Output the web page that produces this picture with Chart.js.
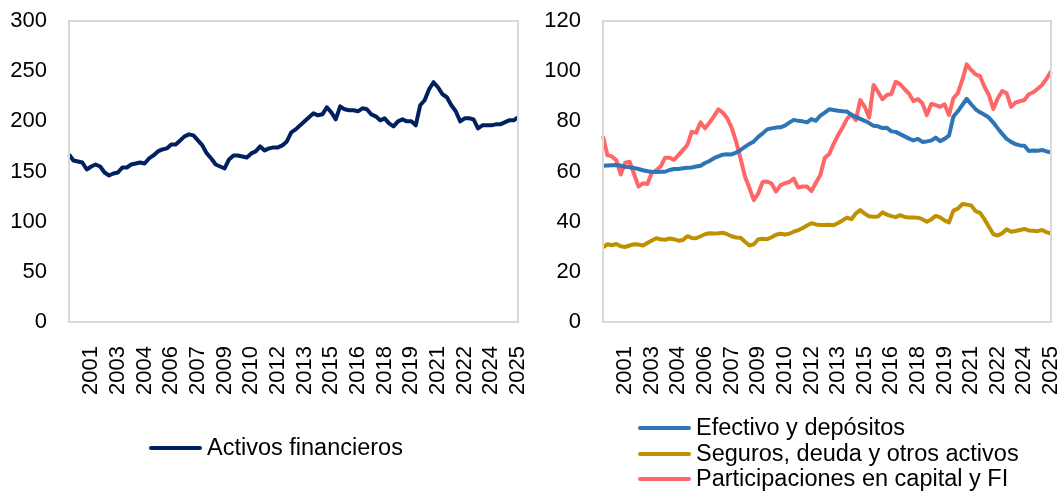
<!DOCTYPE html>
<html>
<head>
<meta charset="utf-8">
<script src="https://cdn.jsdelivr.net/npm/chart.js@4.4.1/dist/chart.umd.min.js"></script>
<style>
body { margin: 0; background: #fff; width: 1063px; height: 491px; position: relative; overflow: hidden; font-family: "Liberation Sans", Arial, sans-serif; }
canvas { position: absolute; top: 0; }
#left-chart { left: 0; }
#right-chart { left: 535px; }
.item { position: absolute; white-space: nowrap; height: 26px; line-height: 26px; font-size: 23.5px; color: #000; }
.swatch { display: inline-block; width: 53px; height: 4px; vertical-align: middle; margin-right: 5px; border-radius: 2px; position: relative; top: -1px; }
</style>
</head>
<body>
<canvas id="left-chart" width="530" height="491"></canvas>
<canvas id="right-chart" width="528" height="491"></canvas>
<div id="legends"></div>
<script>
"use strict";

// quarterly categories, 2000-T2 .. 2025-T3
const quarters = [];
for (let year = 2000; year <= 2025; year++) {
    for (let q = 1; q <= 4; q++) {
        if ((year === 2000 && q < 2) || (year === 2025 && q > 3))
            continue;
        quarters.push(`${year}-T${q}`);
    }
}

const totalAssets = [
    167, 161, 160, 159, 152, 155, 157, 155, 149, 146, 148, 149, 154, 154, 157, 158, 159,
    158, 163, 166, 170, 172, 173, 177, 177, 181, 185, 187, 186, 181, 176, 168, 163, 157,
    155, 153, 162, 166, 166, 165, 164, 168, 170, 175, 171, 173, 174, 174, 176, 180, 189,
    192, 196, 200, 204, 208, 206, 207, 214, 209, 202, 215, 212, 211, 211, 210, 213, 212,
    207, 205, 201, 203, 198, 195, 200, 202, 200, 200, 196, 216, 221, 232, 239, 234, 227,
    224, 216, 210, 200, 203, 203, 202, 193, 196, 196, 196, 197, 197, 199, 201, 201, 204
];

const cashDeposits = [
    62.3, 62.4, 62.5, 62.6, 62.3, 61.9, 61.7, 61.4, 61.0, 60.5, 60.1, 59.9, 59.8, 59.9,
    59.9, 60.6, 61.0, 61.0, 61.3, 61.5, 61.6, 62.0, 62.3, 63.4, 64.2, 65.3, 66.0, 66.7,
    66.9, 66.8, 67.5, 68.6, 69.8, 71.0, 72.0, 73.8, 75.2, 76.8, 77.2, 77.5, 77.6, 78.3,
    79.5, 80.6, 80.2, 80.0, 79.6, 80.9, 80.2, 82.3, 83.5, 84.8, 84.5, 84.2, 84.0, 83.9,
    82.6, 81.8, 81.0, 80.2, 79.3, 78.2, 78.0, 77.3, 77.4, 76.0, 75.8, 74.9, 74.0, 73.1,
    72.4, 73.0, 71.8, 72.0, 72.3, 73.5, 72.1, 73.0, 74.3, 81.9, 84.0, 86.5, 89.0, 86.8,
    84.8, 83.6, 82.6, 81.5, 79.5, 77.2, 75.0, 73.0, 71.8, 70.9, 70.4, 70.3, 68.2, 68.4,
    68.3, 68.6, 68.0, 67.7
];

const insuranceDebt = [
    29.8, 31.0, 30.6, 31.1, 30.2, 29.9, 30.5, 31.0, 30.9, 30.5, 31.5, 32.5, 33.4, 33.0,
    32.8, 33.3, 33.0, 32.4, 32.7, 34.2, 33.5, 33.4, 34.2, 35.0, 35.4, 35.3, 35.4, 35.6,
    35.0, 34.2, 33.7, 33.6, 32.0, 30.5, 31.0, 33.0, 33.2, 33.0, 33.8, 34.8, 35.2, 34.9,
    35.2, 36.0, 36.6, 37.5, 38.5, 39.4, 38.9, 38.7, 38.7, 38.8, 38.6, 39.5, 40.5, 41.6,
    41.0, 43.3, 44.6, 43.2, 42.2, 42.0, 42.1, 43.7, 42.8, 42.2, 41.8, 42.6, 41.9, 41.7,
    41.7, 41.6, 41.0, 40.0, 40.9, 42.3, 41.7, 40.5, 39.7, 44.4, 45.2, 47.0, 46.8, 46.5,
    44.2, 43.5, 41.0, 38.0, 35.0, 34.5, 35.4, 37.0, 36.0, 36.3, 36.7, 37.1, 36.5, 36.4,
    36.2, 36.7, 35.8, 35.2
];

const equityFunds = [
    74.0, 66.5, 66.0, 64.5, 58.8, 63.5, 63.9, 59.0, 54.0, 55.3, 55.0, 59.5, 60.5, 62.0,
    65.5, 65.5, 64.6, 66.5, 68.5, 70.5, 75.8, 75.5, 79.6, 77.2, 79.5, 82.0, 84.8, 83.5,
    81.2, 77.5, 72.0, 65.3, 58.0, 53.5, 48.6, 51.3, 55.8, 56.0, 55.2, 52.0, 54.5, 55.3,
    55.8, 57.2, 53.6, 54.0, 54.0, 52.2, 55.5, 58.6, 65.5, 67.0, 71.0, 74.5, 77.5, 81.0,
    82.8, 80.5, 88.5, 85.8, 81.5, 94.5, 91.8, 88.8, 90.5, 90.9, 95.8, 94.8, 92.8, 91.0,
    88.0, 88.9, 87.2, 82.5, 86.9, 86.5, 85.8, 86.8, 82.5, 89.2, 91.2, 96.5, 102.7, 100.5,
    98.7, 98.0, 93.8, 90.5, 84.9, 89.2, 92.1, 91.2, 85.8, 87.5, 88.0, 88.5, 90.8, 91.6,
    93.0, 94.5, 97.0, 100.0
];

const leftYTicks = [0, 50, 100, 150, 200, 250, 300];
const rightYTicks = [0, 20, 40, 60, 80, 100, 120];

const tickFont = {family: "'Liberation Sans', Arial, sans-serif", size: 22};

const plotBorder = {
    id: "plotBorder",
    afterDraw(chart) {
        const a = chart.chartArea;
        const ctx = chart.ctx;
        ctx.save();
        ctx.strokeStyle = "#d9d9d9";
        ctx.lineWidth = 2;
        ctx.strokeRect(a.left, a.top, a.right - a.left, a.bottom - a.top);
        ctx.restore();
    }
};

function makeChart(canvasId, datasets, yTicks, yWidth)
{
    return new Chart(canvasId, {
        type: "line",
        data: {
            labels: quarters,
            datasets: datasets.map(d => ({
                label: d.label,
                data: d.data,
                borderColor: d.color,
                borderWidth: 4,
                pointRadius: 0,
                tension: 0,
                fill: false,
                borderJoinStyle: "round"
            }))
        },
        options: {
            responsive: false,
            animation: false,
            devicePixelRatio: 1,
            layout: {padding: {top: 21, right: 12, bottom: 0, left: 0}},
            plugins: {legend: {display: false}, tooltip: {enabled: false}},
            scales: {
                x: {
                    grid: {display: false, drawTicks: false},
                    border: {display: false},
                    afterFit: scale => {
                        scale.height = 169;
                        scale.paddingLeft = 0;
                        scale.paddingRight = 0;
                    },
                    ticks: {
                        autoSkip: false,
                        minRotation: 90,
                        maxRotation: 90,
                        padding: 24,
                        color: "#000",
                        font: tickFont,
                        callback: (value, i) => (i % 6 === 5 ? quarters[i].slice(0, 4) : "")
                    }
                },
                y: {
                    min: yTicks[0],
                    max: yTicks[yTicks.length - 1],
                    grid: {display: false, drawTicks: false},
                    border: {display: false},
                    afterFit: scale => {
                        scale.width = yWidth;
                        scale.paddingTop = 0;
                        scale.paddingBottom = 0;
                    },
                    ticks: {
                        stepSize: yTicks[1] - yTicks[0],
                        padding: 22,
                        color: "#000",
                        font: tickFont
                    }
                }
            }
        },
        plugins: [plotBorder]
    });
}

makeChart("left-chart", [
    {label: "Activos financieros", data: totalAssets, color: "#002060"}
], leftYTicks, 69);

makeChart("right-chart", [
    {label: "Efectivo y depósitos", data: cashDeposits, color: "#2e75b6"},
    {label: "Seguros, deuda y otros activos", data: insuranceDebt, color: "#bf9000"},
    {label: "Participaciones en capital y FI", data: equityFunds, color: "#ff6666"}
], rightYTicks, 68);

function legendItem(text, color, x, yMid)
{
    const item = document.createElement("div");
    item.className = "item";
    item.style.left = x + "px";
    item.style.top = (yMid - 13) + "px";
    const swatch = document.createElement("span");
    swatch.className = "swatch";
    swatch.style.background = color;
    item.appendChild(swatch);
    item.appendChild(document.createTextNode(text));
    document.getElementById("legends").appendChild(item);
}

legendItem("Activos financieros", "#002060", 149, 447);
legendItem("Efectivo y depósitos", "#2e75b6", 638, 427);
legendItem("Seguros, deuda y otros activos", "#bf9000", 638, 453);
legendItem("Participaciones en capital y FI", "#ff6666", 638, 478);
</script>
</body>
</html>
